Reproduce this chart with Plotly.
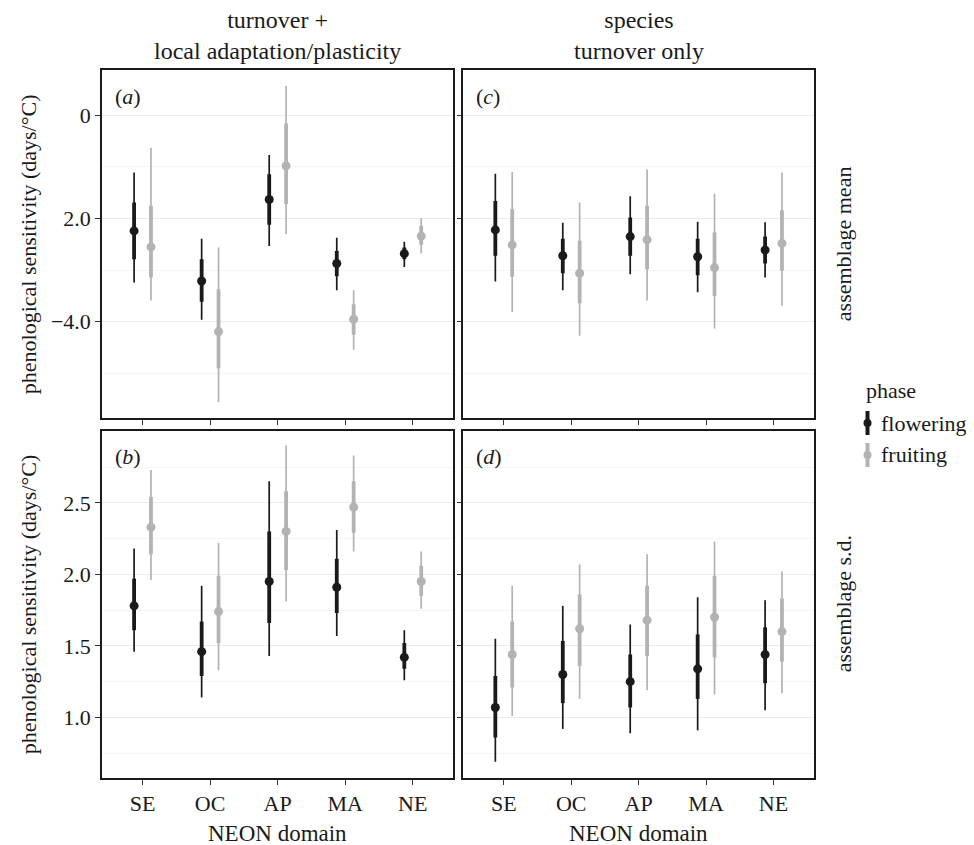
import plotly.graph_objects as go
from plotly.subplots import make_subplots

# ---------------- data ----------------
domains = ["SE", "OC", "AP", "MA", "NE"]
phases = ["flowering", "fruiting"]

# (a) assemblage mean, turnover + local adaptation/plasticity
a_flowering_mid = [-2.24, -3.21, -1.63, -2.87, -2.68]
a_flowering_66 = [(-2.79, -1.69), (-3.61, -2.79), (-2.12, -1.14), (-3.12, -2.63), (-2.79, -2.56)]
a_flowering_95 = [(-3.24, -1.11), (-3.96, -2.39), (-2.53, -0.77), (-3.39, -2.37), (-2.94, -2.45)]
a_fruiting_mid = [-2.55, -4.19, -0.98, -3.95, -2.34]
a_fruiting_66 = [(-3.14, -1.75), (-4.90, -3.37), (-1.72, -0.16), (-4.25, -3.66), (-2.51, -2.14)]
a_fruiting_95 = [(-3.59, -0.63), (-5.56, -2.56), (-2.30, 0.57), (-4.54, -3.39), (-2.67, -1.99)]

# (c) assemblage mean, species turnover only
c_flowering_mid = [-2.22, -2.72, -2.35, -2.74, -2.61]
c_flowering_66 = [(-2.72, -1.66), (-3.06, -2.39), (-2.72, -1.98), (-3.10, -2.39), (-2.87, -2.35)]
c_flowering_95 = [(-3.22, -1.13), (-3.39, -2.08), (-3.08, -1.57), (-3.43, -2.06), (-3.14, -2.07)]
c_fruiting_mid = [-2.51, -3.06, -2.41, -2.95, -2.48]
c_fruiting_66 = [(-3.13, -1.82), (-3.64, -2.43), (-2.98, -1.75), (-3.50, -2.27), (-3.01, -1.84)]
c_fruiting_95 = [(-3.81, -1.10), (-4.27, -1.69), (-3.59, -1.05), (-4.13, -1.52), (-3.69, -1.11)]

# (b) assemblage s.d., turnover + local adaptation/plasticity
b_flowering_mid = [1.78, 1.46, 1.95, 1.91, 1.42]
b_flowering_66 = [(1.61, 1.97), (1.29, 1.67), (1.66, 2.30), (1.73, 2.11), (1.34, 1.52)]
b_flowering_95 = [(1.46, 2.18), (1.14, 1.92), (1.43, 2.65), (1.57, 2.31), (1.26, 1.61)]
b_fruiting_mid = [2.33, 1.74, 2.30, 2.47, 1.95]
b_fruiting_66 = [(2.14, 2.54), (1.52, 1.99), (2.03, 2.58), (2.29, 2.65), (1.85, 2.06)]
b_fruiting_95 = [(1.96, 2.73), (1.33, 2.22), (1.81, 2.90), (2.16, 2.83), (1.76, 2.16)]

# (d) assemblage s.d., species turnover only
d_flowering_mid = [1.07, 1.30, 1.25, 1.34, 1.44]
d_flowering_66 = [(0.86, 1.29), (1.10, 1.535), (1.07, 1.44), (1.13, 1.58), (1.24, 1.63)]
d_flowering_95 = [(0.69, 1.55), (0.92, 1.78), (0.89, 1.65), (0.91, 1.84), (1.05, 1.82)]
d_fruiting_mid = [1.44, 1.62, 1.68, 1.70, 1.60]
d_fruiting_66 = [(1.21, 1.67), (1.36, 1.86), (1.43, 1.92), (1.42, 1.99), (1.39, 1.83)]
d_fruiting_95 = [(1.01, 1.92), (1.13, 2.07), (1.19, 2.14), (1.16, 2.23), (1.17, 2.02)]

col_titles = ["turnover +<br>local adaptation/plasticity", "species<br>turnover only"]
row_titles = ["assemblage mean", "assemblage s.d."]
panel_tags = ["(<i>a</i>)", "(<i>c</i>)", "(<i>b</i>)", "(<i>d</i>)"]
y_title = "phenological sensitivity (days/°C)"
x_title = "NEON domain"
legend_title = "phase"

top_tickvals = [0, -2, -4]
top_ticktext = ["0", "2.0", "\u22124.0"]
top_minor = [-1, -3, -5]
bot_tickvals = [1.0, 1.5, 2.0, 2.5]
bot_ticktext = ["1.0", "1.5", "2.0", "2.5"]
bot_minor = [0.75, 1.25, 1.75, 2.25, 2.75]

# ---------------- style ----------------
FONT = "Liberation Serif, Times New Roman, DejaVu Serif, serif"
TXT = "#1a1a1a"
colors = {"flowering": "#1a1a1a", "fruiting": "#b3b3b3"}
dodge = {"flowering": -0.125, "fruiting": 0.125}
FS = 22
FS_STRIP = 24

panels = {
    (1, 1): {"flowering": (a_flowering_mid, a_flowering_66, a_flowering_95),
             "fruiting": (a_fruiting_mid, a_fruiting_66, a_fruiting_95)},
    (1, 2): {"flowering": (c_flowering_mid, c_flowering_66, c_flowering_95),
             "fruiting": (c_fruiting_mid, c_fruiting_66, c_fruiting_95)},
    (2, 1): {"flowering": (b_flowering_mid, b_flowering_66, b_flowering_95),
             "fruiting": (b_fruiting_mid, b_fruiting_66, b_fruiting_95)},
    (2, 2): {"flowering": (d_flowering_mid, d_flowering_66, d_flowering_95),
             "fruiting": (d_fruiting_mid, d_fruiting_66, d_fruiting_95)},
}

fig = make_subplots(rows=2, cols=2)

xpos = list(range(1, len(domains) + 1))
for (r, c), data in panels.items():
    for ph in phases:
        mid, q66, q95 = data[ph]
        xs = [x + dodge[ph] for x in xpos]
        # outer (thin) interval
        fig.add_trace(go.Scatter(
            x=xs, y=mid, mode="markers",
            marker=dict(color=colors[ph], size=2),
            error_y=dict(type="data", symmetric=False,
                         array=[hi - m for (lo, hi), m in zip(q95, mid)],
                         arrayminus=[m - lo for (lo, hi), m in zip(q95, mid)],
                         color=colors[ph], thickness=1.7, width=0),
            showlegend=False, hoverinfo="skip"), row=r, col=c)
        # inner (thick) interval + point
        fig.add_trace(go.Scatter(
            x=xs, y=mid, mode="markers",
            marker=dict(color=colors[ph], size=9, line=dict(width=0)),
            error_y=dict(type="data", symmetric=False,
                         array=[hi - m for (lo, hi), m in zip(q66, mid)],
                         arrayminus=[m - lo for (lo, hi), m in zip(q66, mid)],
                         color=colors[ph], thickness=3.8, width=0),
            showlegend=False, name=ph), row=r, col=c)

# layout geometry: page has an 8px body margin
OFF = 8
W, H = 974 - OFF, 845 - OFF
PL, PR, PT, PB = 102, 814, 70, 778          # plot area in page pixels
ML, MT = PL - OFF, PT - OFF
MR, MB = W - (PR - OFF), H - (PB - OFF)
def px_x(px):
    return (px - PL) / (PR - PL)
def px_y(py):
    return (PB - py) / (PB - PT)

xdom = [[0.0, px_x(453.3)], [px_x(463.3), 1.0]]
ydom = [[px_y(418.3), 1.0], [0.0, px_y(430.7)]]

axis_common = dict(showline=True, mirror=True, linecolor=TXT, linewidth=1.6,
                   ticks="outside", ticklen=5, tickwidth=1.2, tickcolor="#333333",
                   zeroline=False, tickfont=dict(family=FONT, size=FS, color=TXT))

for r in (1, 2):
    for c in (1, 2):
        idx = (r - 1) * 2 + c
        xa = "xaxis" if idx == 1 else f"xaxis{idx}"
        ya = "yaxis" if idx == 1 else f"yaxis{idx}"
        fig.layout[xa].update(domain=xdom[c - 1], range=[0.4, 5.6],
                              tickmode="array", tickvals=xpos, ticktext=domains,
                              showgrid=False, showticklabels=(r == 2), **axis_common)
        if r == 1:
            tv, tt, mn, rg = top_tickvals, top_ticktext, top_minor, [-5.87, 0.878]
        else:
            tv, tt, mn, rg = bot_tickvals, bot_ticktext, bot_minor, [0.577, 3.004]
        fig.layout[ya].update(domain=ydom[r - 1], range=rg, tickmode="array",
                              tickvals=tv, ticktext=tt, showticklabels=(c == 1),
                              showgrid=True, gridcolor="#ebebeb", gridwidth=1.3,
                              minor=dict(tickmode="array", tickvals=mn, showgrid=True,
                                         gridcolor="#f5f5f5", gridwidth=0.8, ticks=""),
                              **axis_common)

ann = []
font = dict(family=FONT, size=FS, color=TXT)
font_strip = dict(family=FONT, size=FS_STRIP, color=TXT)
# column strips
for c, t in enumerate(col_titles, start=1):
    ann.append(dict(text=t, xref=("x domain" if c == 1 else "x2 domain"), x=0.5,
                    yref="y domain", y=1, yanchor="bottom", yshift=4,
                    showarrow=False, font=font_strip, align="center"))
# row strips
for r, t in enumerate(row_titles, start=1):
    ann.append(dict(text=t, xref="x2 domain", x=1, xshift=29, xanchor="center",
                    yref=("y2 domain" if r == 1 else "y4 domain"), y=0.5, yanchor="middle",
                    textangle=-90, showarrow=False, font=font))
# panel tags
for i, tag in enumerate(panel_tags, start=1):
    ann.append(dict(text=tag, xref=("x domain" if i == 1 else f"x{i} domain"), x=0,
                    xanchor="left", xshift=11,
                    yref=("y domain" if i == 1 else f"y{i} domain"), y=1,
                    yanchor="middle", yshift=-26, showarrow=False, font=font))
# y titles
for r in (1, 2):
    ann.append(dict(text=y_title, xref="paper", x=px_x(28), xanchor="center",
                    yref=("y domain" if r == 1 else "y3 domain"), y=0.5, yanchor="middle",
                    textangle=-90, showarrow=False, font=font))
# x titles
for c in (1, 2):
    ann.append(dict(text=x_title, xref=("x3 domain" if c == 1 else "x4 domain"), x=0.5,
                    yref="paper", y=px_y(833), yanchor="middle",
                    showarrow=False, font=dict(family=FONT, size=23, color=TXT)))

# legend (drawn manually)
ann.append(dict(text=legend_title, xref="paper", x=px_x(864), xanchor="left",
                yref="paper", y=px_y(390), yanchor="middle", showarrow=False, font=font))
shapes = []
leg_rows = {"flowering": 423, "fruiting": 455}
for ph in phases:
    cy = leg_rows[ph]
    ann.append(dict(text=ph, xref="paper", x=px_x(879), xanchor="left",
                    yref="paper", y=px_y(cy), yanchor="middle", showarrow=False, font=font))
    shapes.append(dict(type="line", xref="paper", yref="paper",
                       x0=px_x(867.5), x1=px_x(867.5), y0=px_y(cy - 12), y1=px_y(cy + 12),
                       line=dict(color=colors[ph], width=4)))
    shapes.append(dict(type="circle", xref="paper", yref="paper",
                       x0=px_x(863.5), x1=px_x(871.5), y0=px_y(cy + 4), y1=px_y(cy - 4),
                       fillcolor=colors[ph], line=dict(width=0)))

fig.update_layout(
    width=W, height=H,
    margin=dict(l=ML, r=MR, t=MT, b=MB),
    paper_bgcolor="white", plot_bgcolor="white",
    showlegend=False,
    annotations=ann, shapes=shapes,
    font=dict(family=FONT, size=FS, color=TXT),
)

fig.write_html("out.html")
